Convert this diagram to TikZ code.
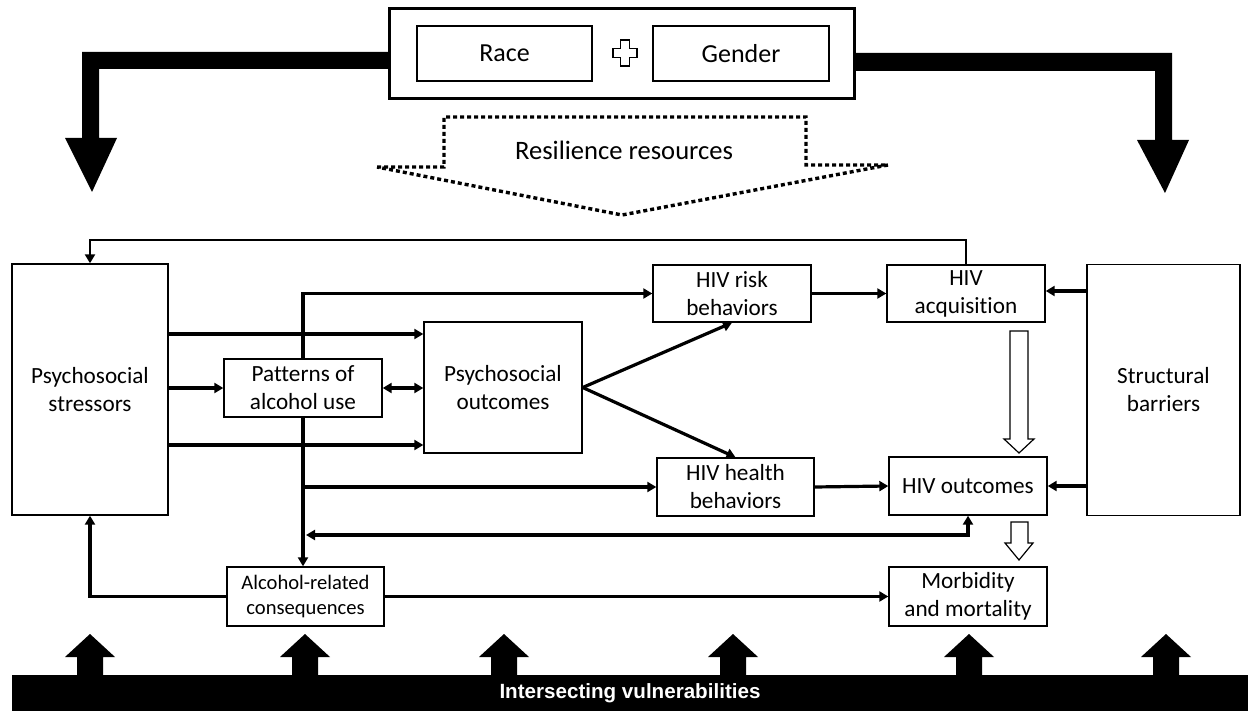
\documentclass[tikz,border=0pt]{standalone}
\usepackage{fontspec}
\setmainfont{Carlito}[Ligatures=NoCommon]
\newfontfamily\barfont{Liberation Sans}
\usetikzlibrary{arrows.meta}

\tikzset{
	>={Triangle[length=4.5pt,width=5pt]},
	box/.style={draw, line width=0.7pt, fill=white, align=center, inner sep=0pt, font=\fontsize{11.6}{14}\selectfont},
	link/.style={line width=1.6pt, ->},
	hollow/.style={draw, line width=0.6pt, fill=white},
	dotline/.style={line width=1.7pt, dash pattern=on 2pt off 1.5pt},
}

\begin{document}
\begin{tikzpicture}[x=0.5pt, y=-0.5pt]
		\useasboundingbox (0,0) rectangle (1248,711);
		% heavy arrows from race + gender
		\fill (390,52) -- (82,52) -- (82,138) -- (65,138) -- (92,192) -- (117,138) -- (99,138) -- (99,69) -- (390,69) -- cycle;
		\fill (855,53) -- (1172,53) -- (1172,140) -- (1189,140) -- (1165,193) -- (1137,140) -- (1155,140) -- (1155,71) -- (855,71) -- cycle;
		\node[box, line width=1.5pt, minimum width=232.5pt, minimum height=45pt] (frame) at (622,53.5) {};
		\node[box, font=\fontsize{13}{15}\selectfont, minimum width=87.5pt, minimum height=27.5pt] (race) at (504.5,53.5) {Race};
		\node[box, font=\fontsize{13}{15}\selectfont, minimum width=88pt, minimum height=27.5pt] (gender) at (741,53.5) {Gender};
		\draw[hollow] (620.5,40) -- (629.5,40) -- (629.5,48.5) -- (637,48.5) -- (637,57.5) -- (629.5,57.5) -- (629.5,66) -- (620.5,66) -- (620.5,57.5) -- (613,57.5) -- (613,48.5) -- (620.5,48.5) -- cycle;
		% resilience resources
		\draw[dotline] (377,167) -- (444,167) -- (444,117) -- (806,117) -- (806,165) -- (888,165) -- (622,215) -- cycle;
		\node[font=\fontsize{13.3}{15}\selectfont] (resil) at (624,150) {Resilience resources};
		% boxes
		\node[box, minimum width=78pt, minimum height=125.5pt] (stress) at (90,389.5) {Psychosocial\\stressors};
		\node[box, minimum width=79pt, minimum height=29pt] (patt) at (303,388) {Patterns of\\alcohol use};
		\node[box, minimum width=79pt, minimum height=65.5pt] (psyo) at (503,387.5) {Psychosocial\\outcomes};
		\node[box, font=\fontsize{10.3}{12.5}\selectfont, minimum width=78.5pt, minimum height=29.5pt] (cons) at (305.5,596.5) {Alcohol-related\\consequences};
		\node[box, minimum width=79pt, minimum height=28.5pt] (risk) at (732,293.5) {HIV risk\\behaviors};
		\node[box, minimum width=79pt, minimum height=28.5pt] (acq) at (966,293.5) {HIV\\acquisition};
		\node[box, minimum width=78.5pt, minimum height=29pt] (hlth) at (735.5,487) {HIV health\\behaviors};
		\node[box, minimum width=79pt, minimum height=29pt] (hivo) at (968,486) {HIV outcomes};
		\node[box, minimum width=79pt, minimum height=29.5pt] (morb) at (968,596.5) {Morbidity\\and mortality};
		\node[box, minimum width=76.5pt, minimum height=125.5pt] (struct) at (1163.5,390) {Structural\\barriers};
		% connectors
		\draw[link, line width=1.2pt] (acq.north) -- (acq.north |- 0,240) -| (stress.north);
		\draw[link] (stress.east |- 0,334) -- (psyo.west |- 0,334);
		\draw[link] (stress.east |- patt.west) -- (patt.west);
		\draw[link] (stress.east |- 0,445) -- (psyo.west |- 0,445);
		\draw[link, <->] (patt.east) -- (patt.east -| psyo.west);
		\draw[link] (patt.north) -- (patt.north |- risk.west) -- (risk.west);
		\draw[link] (patt.south) -- (patt.south |- cons.north);
		\draw[link] (patt.south |- hlth.west) -- (hlth.west);
		\draw[link] (psyo.east) -- (risk.south);
		\draw[link] (psyo.east) -- (hlth.north);
		\draw[link] (risk.east) -- (acq.west);
		\draw[link] (hlth.east) -- (hivo.west);
		\draw[link] (struct.west |- 0,291) -- (acq.east |- 0,291);
		\draw[link] (struct.west |- hivo.east) -- (hivo.east);
		\draw[link, <->] (hivo.south) |- ([xshift=1.5pt]patt.south |- 0,535);
		\draw[link] (cons.east) -- (morb.west);
		\draw[link] (cons.west) -| (stress.south);
		% hollow arrows
		\draw[hollow] (1010,331) -- (1028,331) -- (1028,439) -- (1034,439) -- (1019,453) -- (1004,439) -- (1010,439) -- cycle;
		\draw[hollow] (1011,522) -- (1028,522) -- (1028,543) -- (1033,543) -- (1019,560) -- (1005,543) -- (1011,543) -- cycle;
		% intersecting vulnerabilities
		\node[fill=black, inner sep=0pt, minimum width=618pt, minimum height=18pt, text=white, font=\barfont\bfseries\fontsize{10.3}{12}\selectfont] (vuln) at (630,693) {Intersecting vulnerabilities};
		\foreach \ux in {90,305,504,733,969,1166}
			\fill ({\ux-13},677) -- ({\ux-13},657) -- ({\ux-25},657) -- (\ux,634) -- ({\ux+25},657) -- ({\ux+13},657) -- ({\ux+13},677) -- cycle;
\end{tikzpicture}
\end{document}
